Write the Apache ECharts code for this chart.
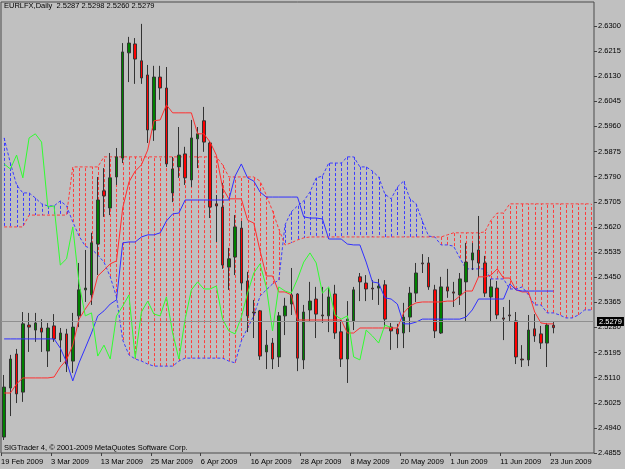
<!DOCTYPE html>
<html>
<head>
<meta charset="utf-8">
<script src="https://cdn.jsdelivr.net/npm/echarts@6/dist/echarts.min.js"></script>
<style>
html, body { margin: 0; padding: 0; background: #c0c0c0; }
#chart { width: 625px; height: 469px; }
</style>
</head>
<body>
<div id="chart"></div>
<script>
// daily bars, 19 Feb 2009 .. 23 Jun 2009 (89 bars), cloud runs 6 bars further
var tickLabels = ['19 Feb 2009', '3 Mar 2009', '13 Mar 2009', '25 Mar 2009', '6 Apr 2009', '16 Apr 2009',
  '28 Apr 2009', '8 May 2009', '20 May 2009', '1 Jun 2009', '11 Jun 2009', '23 Jun 2009'];
var barsPerLabel = 8;

var opens = [2.4909,2.5075,2.5190,2.5061,2.5288,2.5271,2.5278,2.5200,2.5285,2.5237,
  2.5258,2.5166,2.5319,2.5407,2.5390,2.5562,2.5742,2.5684,2.5789,2.5853,
  2.6209,2.6239,2.6182,2.6134,2.5948,2.6127,2.6090,2.5735,2.5823,2.5867,
  2.5779,2.5918,2.5979,2.5904,2.5698,2.5687,2.5484,2.5518,2.5616,2.5437,
  2.5332,2.5336,2.5197,2.5227,2.5180,2.5319,2.5359,2.5393,2.5170,2.5339,
  2.5376,2.5322,2.5319,2.5393,2.5265,2.5173,2.5302,2.5451,2.5430,2.5413,
  2.5413,2.5424,2.5281,2.5275,2.5261,2.5315,2.5396,2.5498,2.5498,2.5407,
  2.5261,2.5417,2.5400,2.5390,2.5434,2.5508,2.5542,2.5498,2.5383,2.5413,
  2.5312,2.5322,2.5302,2.5173,2.5170,2.5275,2.5258,2.5227,2.5287];

var closes = [2.5078,2.5173,2.5055,2.5292,2.5281,2.5295,2.5264,2.5278,2.5241,2.5261,
  2.5156,2.5281,2.5407,2.5413,2.5566,2.5711,2.5725,2.5786,2.5857,2.6212,
  2.6242,2.6188,2.6124,2.5948,2.6127,2.6090,2.5833,2.5816,2.5863,2.5786,
  2.5921,2.5935,2.5907,2.5687,2.5691,2.5491,2.5512,2.5620,2.5430,2.5319,
  2.5329,2.5183,2.5220,2.5173,2.5319,2.5352,2.5390,2.5176,2.5332,2.5369,
  2.5325,2.5319,2.5383,2.5261,2.5173,2.5308,2.5407,2.5434,2.5410,2.5410,
  2.5420,2.5308,2.5268,2.5258,2.5315,2.5396,2.5464,2.5495,2.5417,2.5268,
  2.5417,2.5403,2.5396,2.5444,2.5501,2.5532,2.5498,2.5396,2.5417,2.5322,
  2.5308,2.5319,2.5180,2.5170,2.5271,2.5251,2.5227,2.5288,2.5279];

var highs = [2.5119,2.5187,2.5207,2.5332,2.5329,2.5329,2.5308,2.5295,2.5325,2.5278,
  2.5275,2.5329,2.5498,2.5542,2.5600,2.5789,2.5819,2.5870,2.5887,2.6242,
  2.6263,2.6259,2.6307,2.6168,2.6165,2.6165,2.6161,2.5857,2.5958,2.5891,
  2.5982,2.5958,2.6026,2.5911,2.5728,2.5769,2.5549,2.5660,2.5640,2.5468,
  2.5373,2.5339,2.5271,2.5244,2.5332,2.5380,2.5481,2.5396,2.5356,2.5434,
  2.5417,2.5417,2.5413,2.5424,2.5305,2.5369,2.5417,2.5464,2.5457,2.5440,
  2.5444,2.5440,2.5295,2.5292,2.5363,2.5417,2.5498,2.5528,2.5518,2.5424,
  2.5451,2.5478,2.5434,2.5464,2.5566,2.5566,2.5657,2.5522,2.5444,2.5437,
  2.5349,2.5373,2.5332,2.5220,2.5322,2.5325,2.5285,2.5295,2.5298];

var lows = [2.4899,2.4980,2.5024,2.5028,2.5197,2.5231,2.5197,2.5146,2.5231,2.5163,
  2.5129,2.5126,2.5281,2.5366,2.5356,2.5457,2.5654,2.5660,2.5762,2.5836,
  2.6110,2.6104,2.6104,2.5904,2.5911,2.6050,2.5823,2.5704,2.5786,2.5762,
  2.5755,2.5819,2.5874,2.5650,2.5569,2.5478,2.5407,2.5457,2.5407,2.5264,
  2.5244,2.5170,2.5139,2.5139,2.5146,2.5254,2.5322,2.5132,2.5139,2.5298,
  2.5244,2.5295,2.5264,2.5241,2.5146,2.5092,2.5271,2.5369,2.5369,2.5373,
  2.5356,2.5281,2.5204,2.5210,2.5210,2.5264,2.5366,2.5464,2.5407,2.5244,
  2.5258,2.5380,2.5349,2.5356,2.5298,2.5474,2.5451,2.5383,2.5298,2.5308,
  2.5237,2.5298,2.5156,2.5146,2.5149,2.5231,2.5207,2.5146,2.5260];

var tenkan = [2.5058,2.5058,2.5089,2.5109,2.5109,2.5109,2.5109,2.5109,2.5112,2.5146,
  2.5170,2.5220,2.5308,2.5342,2.5373,2.5454,2.5474,2.5495,2.5505,2.5684,
  2.5772,2.5809,2.5830,2.5880,2.5979,2.5982,2.6033,2.6006,2.6006,2.6006,
  2.6006,2.5935,2.5935,2.5907,2.5863,2.5752,2.5715,2.5715,2.5715,2.5643,
  2.5633,2.5539,2.5454,2.5454,2.5400,2.5400,2.5390,2.5305,2.5305,2.5305,
  2.5305,2.5305,2.5305,2.5305,2.5305,2.5261,2.5261,2.5278,2.5278,2.5278,
  2.5278,2.5278,2.5278,2.5278,2.5329,2.5352,2.5363,2.5366,2.5366,2.5366,
  2.5366,2.5369,2.5369,2.5386,2.5403,2.5403,2.5451,2.5451,2.5457,2.5478,
  2.5447,2.5447,2.5407,2.5400,2.5400,2.5332,2.5295,2.5292,2.5292];

var kijun = [2.5241,2.5241,2.5241,2.5241,2.5241,2.5241,2.5241,2.5241,2.5241,2.5210,
  2.5163,2.5099,2.5160,2.5210,2.5261,2.5319,2.5336,2.5359,2.5373,2.5566,
  2.5569,2.5569,2.5586,2.5593,2.5593,2.5600,2.5640,2.5664,2.5667,2.5711,
  2.5711,2.5711,2.5711,2.5711,2.5711,2.5711,2.5711,2.5792,2.5833,2.5786,
  2.5775,2.5738,2.5721,2.5721,2.5721,2.5721,2.5721,2.5721,2.5654,2.5650,
  2.5650,2.5647,2.5579,2.5579,2.5579,2.5562,2.5559,2.5559,2.5501,2.5434,
  2.5430,2.5380,2.5376,2.5359,2.5292,2.5292,2.5298,2.5308,2.5308,2.5308,
  2.5308,2.5308,2.5308,2.5308,2.5315,2.5339,2.5376,2.5376,2.5376,2.5376,
  2.5376,2.5427,2.5407,2.5403,2.5403,2.5403,2.5403,2.5403,2.5403];

var spanA = [2.5921,2.5836,2.5762,2.5735,2.5735,2.5718,2.5698,2.5691,2.5691,2.5708,
  2.5691,2.5637,2.5589,2.5555,2.5545,2.5525,2.5501,2.5451,2.5383,2.5237,
  2.5187,2.5173,2.5166,2.5156,2.5149,2.5149,2.5149,2.5149,2.5166,2.5176,
  2.5176,2.5176,2.5176,2.5176,2.5176,2.5176,2.5166,2.5160,2.5234,2.5278,
  2.5319,2.5386,2.5407,2.5427,2.5440,2.5627,2.5671,2.5691,2.5708,2.5738,
  2.5786,2.5792,2.5836,2.5836,2.5836,2.5857,2.5857,2.5823,2.5823,2.5809,
  2.5789,2.5731,2.5715,2.5755,2.5775,2.5715,2.5698,2.5640,2.5589,2.5586,
  2.5559,2.5559,2.5555,2.5515,2.5478,2.5478,2.5478,2.5478,2.5444,2.5444,
  2.5444,2.5410,2.5410,2.5417,2.5390,2.5356,2.5356,2.5329,2.5329,2.5322,
  2.5312,2.5312,2.5322,2.5339,2.5339];

var spanB = [2.5620,2.5620,2.5620,2.5620,2.5660,2.5660,2.5660,2.5660,2.5660,2.5660,
  2.5660,2.5823,2.5823,2.5823,2.5823,2.5823,2.5857,2.5857,2.5857,2.5857,
  2.5857,2.5857,2.5857,2.5857,2.5857,2.5857,2.5857,2.5857,2.5857,2.5857,
  2.5857,2.5857,2.5857,2.5857,2.5857,2.5830,2.5789,2.5789,2.5789,2.5789,
  2.5789,2.5775,2.5728,2.5674,2.5613,2.5559,2.5566,2.5576,2.5583,2.5586,
  2.5586,2.5586,2.5586,2.5586,2.5586,2.5586,2.5586,2.5586,2.5586,2.5586,
  2.5586,2.5586,2.5586,2.5586,2.5586,2.5586,2.5586,2.5586,2.5586,2.5586,
  2.5586,2.5593,2.5600,2.5600,2.5600,2.5600,2.5600,2.5603,2.5643,2.5667,
  2.5667,2.5698,2.5698,2.5698,2.5698,2.5698,2.5698,2.5698,2.5698,2.5698,
  2.5698,2.5698,2.5698,2.5698,2.5698];

var lastPrice = 2.5279;
var titleText = 'EURLFX,Daily  2.5287 2.5298 2.5260 2.5279';

// chikou span = close plotted 26 bars back
var chikou = closes.slice(26);

var slots = spanA.length;
var categories = [];
for (var i = 0; i < slots; i++) categories.push(String(i));

var candles = closes.map(function (c, i) { return [opens[i], c, lows[i], highs[i]]; });
var cloud = spanA.map(function (a, i) { return [i, a, spanB[i]]; });

// MT4 puts the date mark at the left edge of the bar slot
var dateMarks = tickLabels.map(function (t, k) { return k * barsPerLabel - 0.5; });

var font = 'Liberation Sans, Arial, sans-serif';
var myChart = echarts.init(document.getElementById('chart'));

var option = {
  animation: false,
  backgroundColor: '#c0c0c0',
  title: [
    { text: titleText, left: 4, top: 2, padding: 0,
      textStyle: { fontSize: 7.5, fontWeight: 'normal', color: '#000', fontFamily: font } },
    { text: 'SIGTrader 4, \u00a9 2001-2009 MetaQuotes Software Corp.', left: 4, top: 444, padding: 0,
      textStyle: { fontSize: 7.5, fontWeight: 'normal', color: '#000', fontFamily: font } }
  ],
  grid: {
    left: 1, top: 2, width: 593, height: 451,
    show: true, borderColor: '#4a4a4a', borderWidth: 1, backgroundColor: 'transparent',
    outerBoundsMode: 'none'
  },
  xAxis: [
    {
      type: 'category',
      data: categories,
      boundaryGap: true,
      axisLine: { show: false, onZero: false },
      axisTick: { show: false },
      axisLabel: { show: false },
      splitLine: { show: false }
    },
    {
      // date scale drawn on top of the bar slots
      type: 'value',
      min: -0.5, max: slots - 0.5,
      position: 'bottom',
      axisLine: { show: false, onZero: false },
      axisTick: { show: true, length: 3, customValues: dateMarks, lineStyle: { color: '#404040' } },
      axisLabel: {
        customValues: dateMarks,
        formatter: function (v) { return tickLabels[Math.round((v + 0.5) / barsPerLabel)] || ''; },
        align: 'left', margin: 5, fontSize: 7.5, color: '#000', fontFamily: font
      },
      splitLine: { show: false }
    }
  ],
  yAxis: {
    type: 'value',
    position: 'right',
    min: 2.4855, max: 2.6381, interval: 0.0085,
    axisLine: { show: false, onZero: false },
    axisTick: { show: true, length: 3, lineStyle: { color: '#404040' } },
    axisLabel: {
      showMaxLabel: false, margin: 4, fontSize: 7.5, color: '#000', fontFamily: font,
      formatter: function (v) { return v.toFixed(4); }
    },
    splitLine: { show: false }
  },
  series: [
    {
      type: 'custom',
      name: 'kumo',
      z: 1,
      silent: true,
      clip: true,
      data: cloud,
      encode: { x: 0, y: [1, 2] },
      renderItem: function (params, api) {
        var a = api.value(1), b = api.value(2);
        var p1 = api.coord([api.value(0), a]);
        var p2 = api.coord([api.value(0), b]);
        var x = Math.round(p1[0]) + 0.5;
        return {
          type: 'line',
          shape: { x1: x, y1: p1[1], x2: x, y2: p2[1] },
          style: { stroke: a > b ? '#3c3cff' : '#ff3c3c', lineWidth: 1, lineDash: [3, 2] }
        };
      }
    },
    {
      type: 'line', name: 'Senkou A', z: 2, data: spanA, showSymbol: false, silent: true,
      lineStyle: { color: '#3c3cff', width: 1, type: [3, 2] }
    },
    {
      type: 'line', name: 'Senkou B', z: 2, data: spanB, showSymbol: false, silent: true,
      lineStyle: { color: '#ff3c3c', width: 1, type: [3, 2] }
    },
    {
      type: 'candlestick',
      name: 'EURLFX',
      z: 3,
      data: candles,
      barWidth: 3,
      itemStyle: {
        color: '#008000', color0: '#ff0000',
        borderColor: '#333333', borderColor0: '#333333', borderWidth: 1
      },
      markLine: {
        silent: true,
        symbol: 'none',
        data: [{ yAxis: lastPrice }],
        lineStyle: { color: '#8f8f8f', type: 'solid', width: 1 },
        label: {
          position: 'end', distance: 3, formatter: lastPrice.toFixed(4),
          backgroundColor: '#000', color: '#fff', padding: [1, 2, 0, 2],
          fontSize: 7.5, fontFamily: font
        }
      }
    },
    {
      type: 'line', name: 'Tenkan', z: 4, data: tenkan, showSymbol: false, silent: true,
      lineStyle: { color: '#ff3030', width: 1 }
    },
    {
      type: 'line', name: 'Kijun', z: 4, data: kijun, showSymbol: false, silent: true,
      lineStyle: { color: '#3030ff', width: 1 }
    },
    {
      type: 'line', name: 'Chikou', z: 4, data: chikou, showSymbol: false, silent: true,
      lineStyle: { color: '#30ff30', width: 1 }
    }
  ]
};

myChart.setOption(option);
window.onresize = function () { myChart.resize(); };
</script>
</body>
</html>
